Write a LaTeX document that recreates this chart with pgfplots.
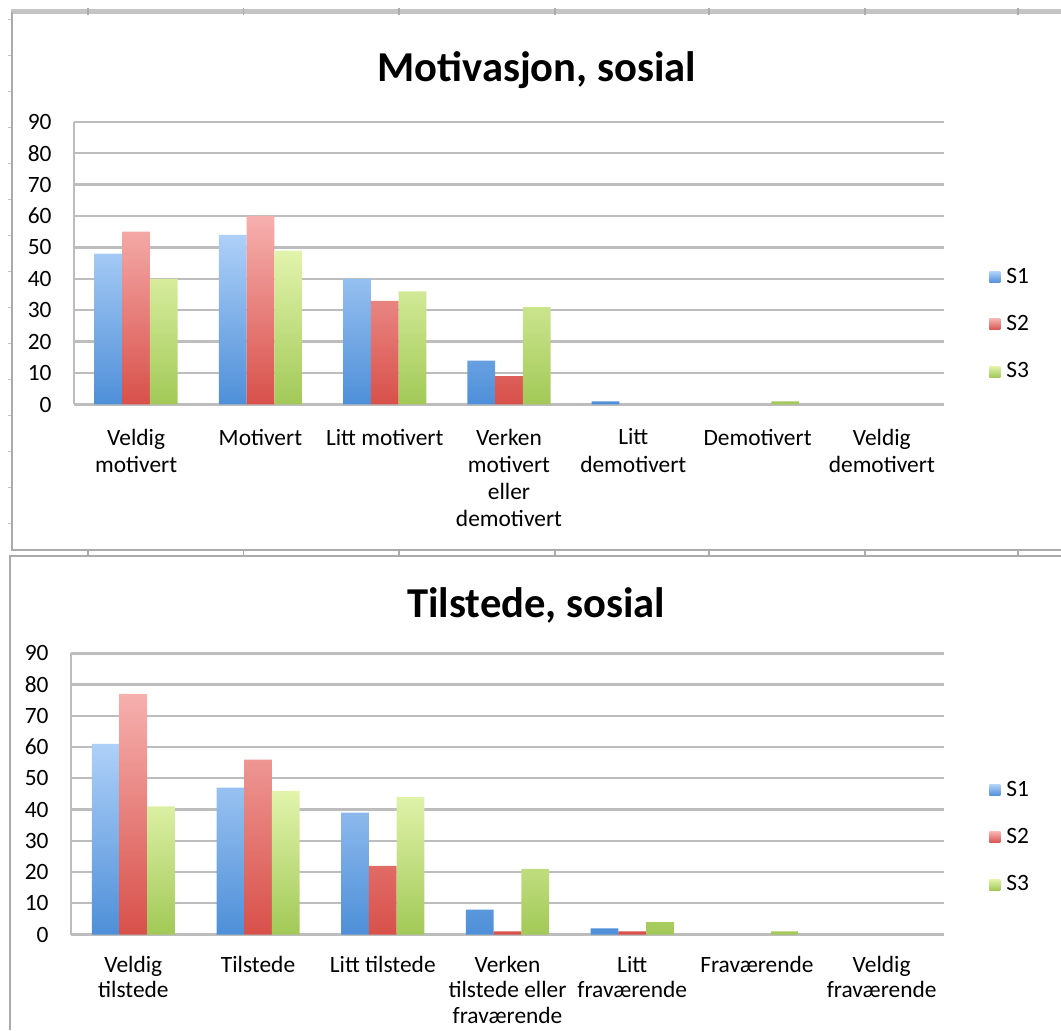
\documentclass[border=0pt]{standalone}
\usepackage{pgfplots}
\pgfplotsset{compat=1.18}
\usepackage{fontspec}
\setmainfont{Carlito}
\definecolor{gridc}{HTML}{BDBDBD}
\definecolor{framec}{HTML}{ABABAB}
\definecolor{stripc}{HTML}{C4C4C4}
\definecolor{bTop}{HTML}{AED0F8}
\definecolor{bBot}{HTML}{4E8FD8}
\definecolor{rTop}{HTML}{F6B0AE}
\definecolor{rBot}{HTML}{D8504A}
\definecolor{gTop}{HTML}{E2F4AC}
\definecolor{gBot}{HTML}{A2C957}
\newcommand{\lblfont}{\fontsize{11.7}{13.6}\selectfont}
\pgfplotsset{
  mybar/.style={
    scale only axis, ybar=0pt, bar width=13.85pt,
    xmin=-0.5, xmax=6.5, ymin=0, ymax=90, ytick={0,10,...,90},
    xtick={0,...,6},
    axis x line*=bottom, axis y line*=left,
    axis line style={-, gridc, line width=1.2pt},
    ymajorgrids, grid style={gridc, line width=1.2pt},
    major tick length=0pt, tick style={draw=none},
    /pgf/number format/assume math mode=true,
    yticklabel style={font=\lblfont, inner sep=0pt, anchor=east, xshift=-11pt},
    xticklabel style={font=\lblfont, align=center, anchor=north, inner sep=0pt},
    legend cell align=left,
    legend style={draw=none, fill=none, anchor=west, inner sep=0pt, row sep=14.5pt,
      font=\lblfont, nodes={inner sep=0pt},
      /tikz/every odd column/.append style={column sep=3pt}},
  },
  myleg/.style={legend image code/.code={\path[##1] (0pt,-2.75pt) rectangle (5.5pt,2.75pt);}},
  s1/.style={draw=none, top color=bTop, bottom color=bBot, myleg},
  s2/.style={draw=none, top color=rTop, bottom color=rBot, myleg},
  s3/.style={draw=none, top color=gTop, bottom color=gBot, myleg},
}
\begin{document}
\begin{tikzpicture}
\path[use as bounding box] (0,0) rectangle (530.5pt,515pt);
% spreadsheet background and chart frames
\fill[stripc] (5.5pt,508pt) rectangle (530.5pt,510.5pt);
\foreach \cx in {88,243.6,399,555,709,865,1018}{
  \draw[framec, line width=0.6pt] (\cx*0.5pt,507.5pt) -- (\cx*0.5pt,511pt);
  \draw[framec, line width=0.6pt] (\cx*0.5pt,237pt) -- (\cx*0.5pt,240pt);
}
\foreach \ry in {20,56,...,530}{
  \draw[framec!70, line width=0.5pt] (4pt,{(1030-\ry)*0.5pt}) -- (5.75pt,{(1030-\ry)*0.5pt});
}
\draw[framec, line width=1pt] (5.75pt,509pt) -- (5.75pt,240pt) -- (530.5pt,240pt);
\draw[framec, line width=1pt] (530.5pt,236.75pt) -- (4.75pt,236.75pt) -- (4.75pt,0pt);

% top chart
\begin{axis}[mybar, at={(37pt,312.75pt)}, anchor=south west,
  width=435pt, height=141.4pt,
  xticklabel style={yshift=-12pt},
  xticklabels={Veldig\\motivert, Motivert, Litt motivert, Verken\\motivert\\eller\\demotivert, Litt\\demotivert, Demotivert, Veldig\\demotivert},
  title={Motivasjon, sosial},
  title style={font=\bfseries\fontsize{21.3}{25}\selectfont, anchor=base, yshift=0pt, inner sep=0pt, at={(0.532,1.101)}},
  legend style={at={(1.0517,0.283)}},
]
\addplot[s1] coordinates {(0,48) (1,54) (2,40) (3,14) (4,1)};
\addplot[s2] coordinates {(0,55) (1,60) (2,33) (3,9)};
\addplot[s3] coordinates {(0,40) (1,49) (2,36) (3,31) (5,1)};
\legend{S1,S2,S3}
\end{axis}

% bottom chart
\begin{axis}[mybar, at={(35.5pt,47.75pt)}, anchor=south west,
  width=436.5pt, height=140.6pt,
  xticklabel style={yshift=-10.5pt, font=\fontsize{11.7}{12.8}\selectfont},
  xticklabels={Veldig\\tilstede, Tilstede, Litt tilstede, Verken\\tilstede eller\\fraværende, Litt\\fraværende, Fraværende, Veldig\\fraværende},
  title={Tilstede, sosial},
  title style={font=\bfseries\fontsize{21.3}{25}\selectfont, anchor=base, yshift=0pt, inner sep=0pt, at={(0.533,1.084)}},
  legend style={at={(1.0515,0.345)}},
]
\addplot[s1] coordinates {(0,61) (1,47) (2,39) (3,8) (4,2)};
\addplot[s2] coordinates {(0,77) (1,56) (2,22) (3,1) (4,1)};
\addplot[s3] coordinates {(0,41) (1,46) (2,44) (3,21) (4,4) (5,1)};
\legend{S1,S2,S3}
\end{axis}
\end{tikzpicture}
\end{document}
